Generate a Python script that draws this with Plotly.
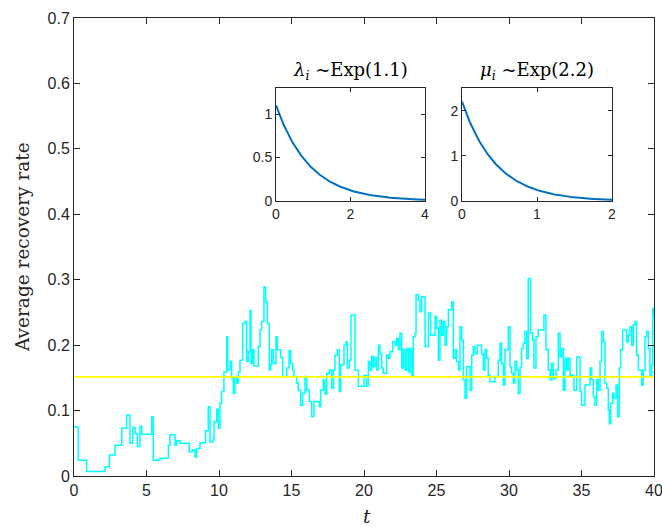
import numpy as np
import plotly.graph_objects as go

# Simulated average recovery rate over time (step trace)
t_vals = [0.00, 0.30, 0.87, 2.14, 2.44, 2.83, 3.29, 3.63, 3.86, 4.05, 4.21, 4.37, 4.55, 4.67,
          5.36, 5.47, 5.93, 6.51, 6.62, 6.97, 7.08, 7.31, 7.95, 8.18, 8.34, 8.46, 8.69, 9.08,
          9.26, 9.38, 9.56, 9.66, 9.84, 9.95, 10.07, 10.18, 10.34, 10.53, 10.60, 10.76, 10.87,
          10.99, 11.10, 11.22, 11.33, 11.45, 11.63, 11.79, 11.91, 12.02, 12.14, 12.21, 12.32,
          12.41, 12.71, 12.83, 12.94, 13.10, 13.22, 13.33, 13.47, 13.56, 13.63, 13.75, 13.93,
          14.02, 14.25, 14.39, 14.67, 14.83, 14.94, 15.08, 15.17, 15.36, 15.47, 15.63, 15.77,
          15.93, 16.05, 16.23, 16.39, 16.55, 16.92, 17.01, 17.20, 17.31, 17.43, 17.61, 17.77,
          17.89, 18.00, 18.16, 18.30, 18.39, 18.62, 18.76, 18.85, 18.99, 19.10, 19.38, 19.61,
          20.00, 20.18, 20.30, 20.41, 20.53, 20.64, 20.76, 20.87, 20.99, 21.10, 21.22, 21.33,
          21.56, 21.68, 21.79, 21.98, 22.14, 22.25, 22.37, 22.48, 22.60, 22.71, 22.83, 22.94,
          23.06, 23.17, 23.29, 23.40, 23.52, 23.59, 23.75, 23.86, 23.98, 24.21, 24.44, 24.60,
          24.90, 25.01, 25.13, 25.24, 25.36, 25.47, 25.59, 25.70, 25.82, 26.05, 26.16, 26.28,
          26.39, 26.51, 26.62, 26.74, 26.85, 26.97, 27.08, 27.31, 27.43, 27.54, 27.66, 27.82,
          28.11, 28.23, 28.34, 28.46, 28.57, 28.69, 29.03, 29.26, 29.38, 29.49, 29.61, 29.72,
          29.95, 30.07, 30.18, 30.30, 30.41, 30.53, 30.64, 30.76, 30.87, 30.99, 31.10, 31.22,
          31.33, 31.49, 31.63, 31.72, 31.86, 32.02, 32.41, 32.55, 32.71, 32.83, 32.94, 33.06,
          33.24, 33.40, 33.52, 33.63, 33.75, 33.86, 33.98, 34.09, 34.21, 34.48, 34.67, 34.90,
          35.01, 35.24, 35.59, 35.70, 35.82, 35.93, 36.05, 36.16, 36.28, 36.39, 36.51, 36.62,
          36.74, 36.85, 36.92, 37.01, 37.15, 37.24, 37.38, 37.49, 37.61, 37.70, 37.84, 38.11,
          38.23, 38.34, 38.46, 38.57, 38.69, 38.80, 38.92, 39.15, 39.26, 39.38, 39.49, 39.61,
          39.72, 39.84, 39.91, 40.00]
rate_vals = [0.075, 0.024, 0.007, 0.014, 0.032, 0.047, 0.073, 0.093, 0.050, 0.074, 0.065, 0.045,
             0.076, 0.064, 0.090, 0.024, 0.027, 0.047, 0.063, 0.047, 0.054, 0.050, 0.037, 0.040,
             0.029, 0.042, 0.051, 0.069, 0.106, 0.052, 0.055, 0.083, 0.102, 0.073, 0.111, 0.129,
             0.159, 0.213, 0.162, 0.175, 0.149, 0.126, 0.152, 0.142, 0.159, 0.177, 0.233, 0.236,
             0.175, 0.190, 0.253, 0.172, 0.193, 0.168, 0.198, 0.223, 0.236, 0.289, 0.266, 0.233,
             0.162, 0.170, 0.193, 0.172, 0.213, 0.193, 0.181, 0.152, 0.165, 0.192, 0.172, 0.162,
             0.152, 0.142, 0.131, 0.108, 0.126, 0.152, 0.131, 0.114, 0.091, 0.114, 0.106, 0.131,
             0.147, 0.125, 0.157, 0.162, 0.134, 0.162, 0.185, 0.193, 0.129, 0.170, 0.200, 0.205,
             0.165, 0.177, 0.246, 0.162, 0.137, 0.154, 0.137, 0.175, 0.162, 0.183, 0.167, 0.181,
             0.162, 0.200, 0.187, 0.165, 0.157, 0.185, 0.180, 0.190, 0.205, 0.200, 0.210, 0.193,
             0.218, 0.165, 0.193, 0.162, 0.195, 0.159, 0.195, 0.152, 0.213, 0.218, 0.277, 0.269,
             0.251, 0.274, 0.198, 0.249, 0.215, 0.244, 0.226, 0.177, 0.238, 0.215, 0.236, 0.200,
             0.228, 0.254, 0.266, 0.180, 0.193, 0.175, 0.162, 0.228, 0.208, 0.147, 0.119, 0.167,
             0.131, 0.185, 0.198, 0.187, 0.200, 0.187, 0.162, 0.193, 0.180, 0.154, 0.144, 0.152,
             0.177, 0.203, 0.172, 0.139, 0.193, 0.228, 0.167, 0.157, 0.142, 0.175, 0.162, 0.126,
             0.167, 0.195, 0.203, 0.221, 0.180, 0.302, 0.218, 0.208, 0.165, 0.213, 0.223, 0.246,
             0.193, 0.162, 0.147, 0.172, 0.149, 0.162, 0.218, 0.182, 0.195, 0.131, 0.180, 0.162,
             0.180, 0.154, 0.131, 0.182, 0.129, 0.108, 0.139, 0.165, 0.147, 0.121, 0.108, 0.147,
             0.131, 0.175, 0.221, 0.205, 0.142, 0.134, 0.101, 0.080, 0.111, 0.126, 0.119, 0.139,
             0.091, 0.165, 0.193, 0.223, 0.205, 0.215, 0.228, 0.200, 0.231, 0.236, 0.185, 0.162,
             0.139, 0.162, 0.213, 0.221, 0.195, 0.154, 0.170, 0.256, 0.243]
mean_rate = 0.1515

# Rates of the exponential distributions shown in the insets
lambda_rate = 1.1
mu_rate = 2.2

x_ticks = [0, 5, 10, 15, 20, 25, 30, 35, 40]
y_ticks = [0, 0.1, 0.2, 0.3, 0.4, 0.5, 0.6, 0.7]

W, H = 662, 527
AX = "#262626"
SANS = "Liberation Sans, Helvetica, Arial, sans-serif"
SERIF = "DejaVu Serif, Liberation Serif, serif"
BLUE = "#0072BD"


def px_x(p):
    return p / W


def px_y(p):
    return 1 - p / H


fig = go.Figure()

fig.add_trace(go.Scatter(x=t_vals, y=rate_vals, mode="lines", line=dict(color="#00FFFF", width=1.5, shape="hv"),
                         showlegend=False, xaxis="x", yaxis="y"))
fig.add_trace(go.Scatter(x=[0, 40], y=[mean_rate, mean_rate], mode="lines",
                         line=dict(color="#FFFF00", width=1.6), showlegend=False, xaxis="x", yaxis="y"))

lam_x = np.linspace(0, 4, 200)
mu_x = np.linspace(0, 2, 200)
fig.add_trace(go.Scatter(x=lam_x, y=lambda_rate * np.exp(-lambda_rate * lam_x), mode="lines",
                         line=dict(color=BLUE, width=2), showlegend=False, xaxis="x2", yaxis="y2"))
fig.add_trace(go.Scatter(x=mu_x, y=mu_rate * np.exp(-mu_rate * mu_x), mode="lines",
                         line=dict(color=BLUE, width=2), showlegend=False, xaxis="x3", yaxis="y3"))

axis_common = dict(showgrid=False, zeroline=False, showline=True, linecolor=AX, linewidth=1,
                   mirror="allticks", ticks="inside", tickcolor=AX, tickwidth=1, automargin=False,
                   ticklabeloverflow="allow")
main_font = dict(family=SANS, size=16, color=AX)
inset_font = dict(family=SANS, size=14, color=AX)

fig.update_layout(
    template="none",
    width=W, height=H,
    margin=dict(l=0, r=0, t=0, b=0, autoexpand=False),
    paper_bgcolor="white", plot_bgcolor="white",
    xaxis=dict(domain=[px_x(74), px_x(654)], range=[0, 40], tickvals=x_ticks, ticklen=6,
               tickfont=main_font, anchor="y", **axis_common),
    yaxis=dict(domain=[px_y(476), px_y(18)], range=[0, 0.7], tickvals=y_ticks,
               ticktext=[f"{v:g}" for v in y_ticks], ticklen=6,
               tickfont=main_font, anchor="x", **axis_common),
    xaxis2=dict(domain=[px_x(276), px_x(425)], range=[0, 4], tickvals=[0, 2, 4], ticklen=4,
                tickfont=inset_font, anchor="y2", **axis_common),
    yaxis2=dict(domain=[px_y(201), px_y(88)], range=[0, 1.3], tickvals=[0, 0.5, 1], ticklen=4,
                tickfont=inset_font, anchor="x2", **axis_common),
    xaxis3=dict(domain=[px_x(462), px_x(612)], range=[0, 2], tickvals=[0, 1, 2], ticklen=4,
                tickfont=inset_font, anchor="y3", **axis_common),
    yaxis3=dict(domain=[px_y(201), px_y(88)], range=[0, 2.5], tickvals=[0, 1, 2], ticklen=4,
                tickfont=inset_font, anchor="x3", **axis_common),
    annotations=[
        dict(text="Average recovery rate", x=px_x(22), y=px_y(247), xref="paper", yref="paper",
             xanchor="center", yanchor="middle", textangle=-90, showarrow=False,
             font=dict(family=SERIF, size=18.5, color=AX)),
        dict(text="<i>t</i>", x=px_x(367), y=px_y(516), xref="paper", yref="paper",
             xanchor="center", yanchor="middle", showarrow=False,
             font=dict(family=SERIF, size=19, color=AX)),
        dict(text="<i>λ<sub>i</sub></i> ~Exp(1.1)", x=px_x(350), y=px_y(71), xref="paper", yref="paper",
             xanchor="center", yanchor="middle", showarrow=False,
             font=dict(family=SERIF, size=18, color="black")),
        dict(text="<i>μ<sub>i</sub></i> ~Exp(2.2)", x=px_x(537), y=px_y(71), xref="paper", yref="paper",
             xanchor="center", yanchor="middle", showarrow=False,
             font=dict(family=SERIF, size=18, color="black")),
    ],
)

fig.write_html("out.html")
